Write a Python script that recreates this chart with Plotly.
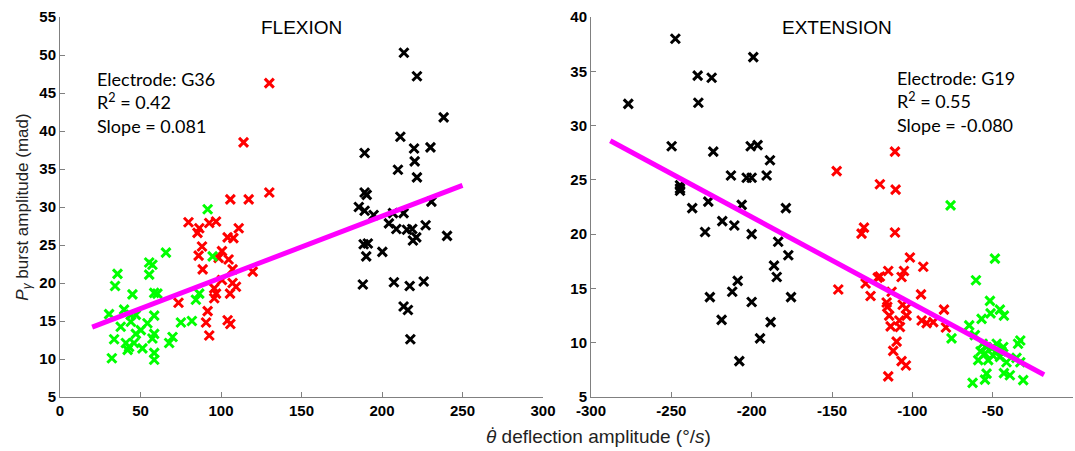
import plotly.graph_objects as go

# ---------------- FLEXION (left panel) ----------------
flex_green_x = [91.7, 65.8, 55.4, 57.4, 55.4, 35.7, 34.2, 45, 58.5, 60.5, 94.8, 86.5, 84.4, 39.8, 30.5,
                44, 47.1, 58.5, 37.7, 44, 54.3, 75.1, 81.9, 50.2, 47.1, 33.6, 58.5, 57.4, 69.9, 67.8,
                40.9, 42.9, 42, 51.2, 46, 58.5, 58.5, 32.2]
flex_green_y = [29.7, 24.0, 22.7, 22.4, 21.1, 21.2, 19.6, 18.5, 18.7, 18.6, 23.5, 18.6, 17.8, 16.5, 15.9,
                15.8, 15.8, 15.7, 14.25, 14.9, 14.7, 14.8, 15.0, 13.8, 13.3, 12.6, 13.3, 12.7, 12.9, 12.1,
                12.1, 11.6, 11.2, 11.4, 12.1, 10.8, 9.9, 10.1]

flex_red_x = [130, 114, 130, 105.8, 117.2, 79.8, 86.5, 85.4, 92.7, 96.9, 111, 104.1, 107.7, 88.2, 86.1,
              100.6, 98.5, 104.7, 88.6, 107.2, 119.7, 100.6, 95.8, 96.9, 95.8, 107.2, 109.3, 105.6, 73.6,
              91.7, 90.7, 92.7, 104.1, 105.8]
flex_red_y = [46.3, 38.5, 31.9, 31.0, 31.0, 28.0, 27.2, 26.6, 27.9, 28.1, 27.2, 26.0, 25.9, 24.8, 23.6,
              24.2, 23.3, 23.1, 21.8, 21.8, 21.5, 20.4, 19.3, 18.6, 18.0, 20.0, 19.5, 18.6, 17.4,
              16.3, 14.8, 13.1, 15.1, 14.6]

flex_black_x = [213.6, 221.7, 238.3, 211.4, 219.9, 230.1, 189.2, 220.3, 209.9, 221.7, 189.2, 190.5, 230.7,
                185.6, 189.2, 194.8, 206.8, 213.4, 204.3, 208.9, 215.5, 218.8, 227.1, 221.3, 219.2, 240.4,
                188.6, 191.2, 190.2, 200.2, 188.1, 207.4, 217.2, 225.9, 213.4, 216.1, 217.6]
flex_black_y = [50.3, 47.2, 41.8, 39.25, 37.7, 37.85, 37.1, 36.0, 34.9, 33.9, 31.9, 31.6, 30.7,
                30.0, 29.5, 28.95, 29.2, 29.2, 27.85, 27.1, 27.0, 27.1, 27.6, 26.0, 25.6, 26.2,
                25.1, 25.2, 23.5, 24.1, 19.8, 20.1, 19.6, 20.2, 16.9, 16.45, 12.6]

flex_fit_x = [20, 250]
flex_fit_y = [14.2, 32.85]

# ---------------- EXTENSION (right panel) ----------------
ext_black_x = [-247.5, -276.8, -233.6, -224.9, -233.2, -199, -249.8, -223.9, -200.6, -196.3, -188.6,
               -212.9, -203.1, -200, -190.7, -244.6, -244.6, -244.6, -227, -237, -206.2, -178.7, -218.3,
               -210.8, -229, -200, -183.5, -177.2, -186.1, -184.4, -208.7, -212.1, -226, -175.5, -200,
               -218.7, -188.2, -194.8, -207.7]
ext_black_y = [38.0, 32.0, 34.6, 34.4, 32.1, 36.3, 28.1, 27.6, 28.1, 28.2, 26.8,
               25.4, 25.2, 25.2, 25.4, 24.5, 24.0, 24.2, 23.0, 22.4, 22.7, 22.4, 21.2,
               20.8, 20.2, 20.0, 19.3, 18.05, 17.1, 16.05, 15.7, 14.7, 14.2, 14.2, 13.75,
               12.1, 11.9, 10.4, 8.3]

ext_red_x = [-110.8, -147.1, -120.2, -110.4, -130.1, -131.6, -110.8, -101.5, -93.2, -115, -120.2, -121.5,
             -105.2, -106.7, -146.1, -129.1, -126, -112.9, -94.6, -116, -115.6, -106, -104, -80.3, -114.4,
             -103.6, -108.1, -94.2, -91.1, -87, -113.5, -107.7, -79.1, -109.8, -111.9, -106.7, -104, -115]
ext_red_y = [27.6, 25.8, 24.6, 24.1, 20.6, 20.05, 20.15, 17.85, 17.0, 16.6, 16.1, 16.0,
             16.6, 16.05, 14.9, 15.45, 14.3, 14.7, 14.45, 13.7, 13.3, 13.5, 13.15, 13.05, 12.5,
             12.5, 12.05, 12.05, 11.8, 11.9, 11.5, 11.45, 11.4, 10.1, 9.25, 8.3, 7.9, 6.9]

ext_green_x = [-76.2, -48.6, -60.4, -51.7, -45.5, -43, -51.3, -56.9, -64.6, -75.6, -61.1, -56.3, -53.8,
               -50.7, -47.5, -43.4, -54.8, -49.6, -45.5, -59, -52.8, -41.4, -34.2, -32.8, -35.2, -32.8,
               -43, -39.3, -53.8, -54.8, -62.5, -31, -47.5, -44.5, -57.5]
ext_green_y = [22.65, 17.75, 15.75, 13.85, 13.05, 12.5, 12.7, 12.2, 11.6, 10.4, 10.7, 9.9, 9.6,
               9.5, 9.3, 9.6, 9.0, 8.8, 8.7, 8.4, 8.4, 8.2, 9.9, 10.2, 8.6, 8.2,
               7.2, 7.0, 7.15, 6.6, 6.3, 6.55, 9.9, 9.2, 9.2]

ext_fit_x = [-288, -18]
ext_fit_y = [28.6, 7.05]

x_ticks_flex = [0, 50, 100, 150, 200, 250, 300]
x_ticks_ext = [-300, -250, -200, -150, -100, -50, 0]
x_ticktext_ext = ["-300", "-250", "-200", "-150", "-100", "-50", "0"]
y_ticks_flex = [5, 10, 15, 20, 25, 30, 35, 40, 45, 50, 55]
y_ticks_ext = [5, 10, 15, 20, 25, 30, 35, 40]

GREEN = "#00ff00"
RED = "#ff0000"
BLACK = "#000000"
MAGENTA = "#ff00ff"

fig = go.Figure()


def add_pts(xs, ys, color, xa, ya):
    fig.add_trace(go.Scatter(
        x=xs, y=ys, mode="markers", xaxis=xa, yaxis=ya, showlegend=False,
        marker=dict(symbol="x-thin-open", size=9, color=color,
                    line=dict(width=3, color=color)),
    ))


add_pts(flex_black_x, flex_black_y, BLACK, "x", "y")
add_pts(flex_red_x, flex_red_y, RED, "x", "y")
add_pts(flex_green_x, flex_green_y, GREEN, "x", "y")
fig.add_trace(go.Scatter(x=flex_fit_x, y=flex_fit_y, mode="lines", xaxis="x", yaxis="y",
                         line=dict(color=MAGENTA, width=5), showlegend=False))

add_pts(ext_black_x, ext_black_y, BLACK, "x2", "y2")
add_pts(ext_red_x, ext_red_y, RED, "x2", "y2")
add_pts(ext_green_x, ext_green_y, GREEN, "x2", "y2")
fig.add_trace(go.Scatter(x=ext_fit_x, y=ext_fit_y, mode="lines", xaxis="x2", yaxis="y2",
                         line=dict(color=MAGENTA, width=5), showlegend=False))

tickfont = dict(family="Liberation Sans Narrow, Liberation Sans, Arial", size=15, color="#000000", weight="bold")
axis_common = dict(showline=True, linecolor="#808080", linewidth=1, ticks="inside", ticklen=5,
                   tickcolor="#808080", showgrid=False, zeroline=False, mirror=False,
                   tickfont=tickfont, automargin=False)

L_END = 483 / 1013
R_START = 531 / 1013

fig.update_layout(
    width=1075, height=451,
    margin=dict(l=60, r=2, t=17, b=54),
    paper_bgcolor="white", plot_bgcolor="white",
    xaxis=dict(domain=[0, L_END], range=[0, 300], tickvals=x_ticks_flex, anchor="y", **axis_common),
    yaxis=dict(domain=[0, 1], range=[5, 55], tickvals=y_ticks_flex, anchor="x",
               title=dict(text="<i>P</i><sub><i>γ</i></sub> burst amplitude (mad)",
                          font=dict(family="Liberation Sans, Arial", size=17, color="#222222"),
                          standoff=6),
               **axis_common),
    xaxis2=dict(domain=[R_START, 1], range=[-300, 0], tickvals=x_ticks_ext, ticktext=x_ticktext_ext,
                anchor="y2", **axis_common),
    yaxis2=dict(domain=[0, 1], range=[5, 40], tickvals=y_ticks_ext, anchor="x2", **axis_common),
)

title_font = dict(family="Liberation Sans, Arial", size=19, color="#000000")
ann_font = dict(family="Lato, Open Sans, sans-serif", size=18, color="#000000")

fig.add_annotation(text="FLEXION", xref="x", yref="y", x=150, y=55, yanchor="top", xanchor="center",
                   showarrow=False, font=title_font, yshift=2)
fig.add_annotation(text="EXTENSION", xref="x2", yref="y2", x=-147, y=40, yanchor="top", xanchor="center",
                   showarrow=False, font=title_font, yshift=2)

fig.add_annotation(text="Electrode: G36<br>R<sup>2</sup> = 0.42<br>Slope = 0.081", xref="x", yref="y",
                   x=22, y=48.6, xanchor="left", yanchor="top", align="left", showarrow=False,
                   font=ann_font)
fig.add_annotation(text="Electrode: G19<br>R<sup>2</sup> = 0.55<br>Slope = -0.080", xref="x2", yref="y2",
                   x=-110.5, y=35.6, xanchor="left", yanchor="top", align="left", showarrow=False,
                   font=ann_font)

# x-axis title (theta with a dot above, drawn as a separate small dot)
XT_X = (598 - 60) / 1013
XT_Y = -(424 - 397) / 380
fig.add_annotation(
    text="<i>θ</i> deflection amplitude (°/<i>s</i>)",
    xref="paper", yref="paper", x=XT_X, y=XT_Y, xanchor="center", yanchor="top", showarrow=False,
    font=dict(family="Liberation Sans, Arial", size=19, color="#222222"))
fig.add_annotation(
    text="·", xref="paper", yref="paper", x=(492 - 60) / 1013, y=-(428 - 397) / 380,
    xanchor="center", yanchor="middle", showarrow=False,
    font=dict(family="Liberation Sans, Arial", size=16, color="#222222"))

fig.write_html("out.html", config={"displayModeBar": False},
               post_script="document.body.style.margin='0';document.body.style.padding='0';")
